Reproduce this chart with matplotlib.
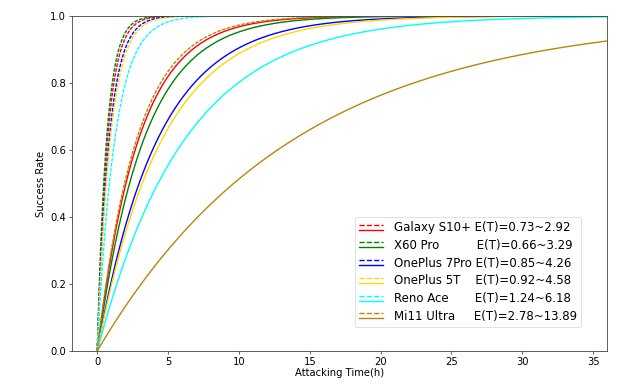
import numpy as np
import matplotlib
matplotlib.use("Agg")
import matplotlib.pyplot as plt
from matplotlib.legend_handler import HandlerBase
from matplotlib.lines import Line2D
from matplotlib.font_manager import FontProperties

# expected attack time E(T) in hours: (best case, worst case)
devices = ["Galaxy S10+", "X60 Pro", "OnePlus 7Pro", "OnePlus 5T", "Reno Ace", "Mi11 Ultra"]
e_low = [0.73, 0.66, 0.85, 0.92, 1.24, 2.78]
e_high = [2.92, 3.29, 4.26, 4.58, 6.18, 13.89]
colors = ["red", "green", "blue", "gold", "cyan", "darkgoldenrod"]

hours = np.linspace(0, 36, 721)
DASH = (0, (2.6, 1.0))
LEG_FS = 8.5


class PairHandler(HandlerBase):
    # dashed line on top, solid line just below it
    def create_artists(self, legend, orig_handle, xdescent, ydescent,
                       width, height, fontsize, trans):
        out = []
        for h, frac in zip(orig_handle, [0.8, 0.2]):
            y = frac * height - ydescent
            ln = Line2D([-xdescent, width - xdescent], [y, y],
                        color=h.get_color(), linestyle=h.get_linestyle(),
                        linewidth=h.get_linewidth(), transform=trans)
            out.append(ln)
        return out


fig = plt.figure(figsize=(6.2, 3.87), dpi=100)
ax = fig.add_axes([0.1157, 0.093, 0.8638, 0.866])

pairs = []
for lo, hi, c in zip(e_low, e_high, colors):
    d, = ax.plot(hours, 1 - np.exp(-hours / lo), linestyle=DASH, color=c, lw=1.0)
    s, = ax.plot(hours, 1 - np.exp(-hours / hi), "-", color=c, lw=1.0)
    pairs.append((d, s))

ax.set_xlim(-1.8, 36)
ax.set_ylim(0, 1.0)
ax.set_xticks([0, 5, 10, 15, 20, 25, 30, 35])
ax.set_yticks([0.0, 0.2, 0.4, 0.6, 0.8, 1.0])
ax.tick_params(labelsize=7.2, width=0.6, length=2.5, pad=1.5, color="#444444")
for sp in ax.spines.values():
    sp.set_linewidth(0.6)
    sp.set_color("#444444")
ax.set_xlabel("Attacking Time(h)", fontsize=7.2, labelpad=1)
ax.set_ylabel("Success Rate", fontsize=7.2, labelpad=3)

# pad names with spaces so the E(T) column roughly lines up
rend = fig.canvas.get_renderer()
fp = FontProperties(size=LEG_FS)
def text_w(s):
    return rend.get_text_width_height_descent(s, fp, ismath=False)[0]
space_w = text_w("a a") - text_w("aa")
widths = [text_w(n) for n in devices]
target = max(widths) + space_w
labels = []
for name, w, lo, hi in zip(devices, widths, e_low, e_high):
    g = max(1, int(round((target - w) / space_w)))
    labels.append(name + " " * g + f"E(T)={lo:.2f}~{hi:.2f}")

leg = ax.legend(pairs, labels, handler_map={tuple: PairHandler()},
                loc="lower right", bbox_to_anchor=(0.951, 0.0716), borderaxespad=0,
                fontsize=LEG_FS, labelspacing=0.4, borderpad=0.35,
                handlelength=2.0, handletextpad=0.95,
                fancybox=True, framealpha=0.8)
leg.get_frame().set_linewidth(0.5)

fig.savefig("out.png", dpi=100)
